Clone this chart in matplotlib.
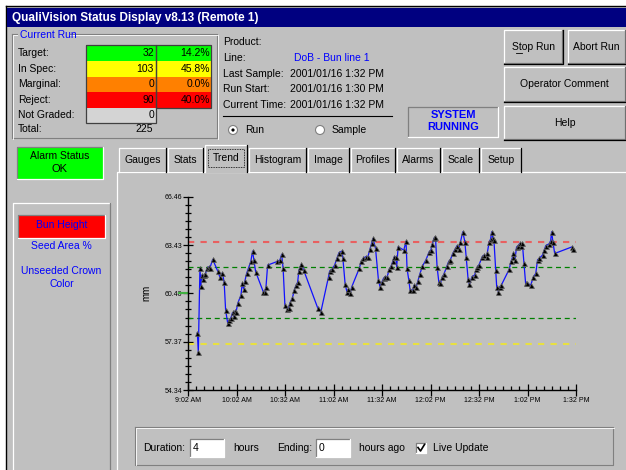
import matplotlib
matplotlib.use("Agg")
import matplotlib.pyplot as plt
from matplotlib.patches import Rectangle, Circle
from matplotlib.ticker import FixedLocator, MultipleLocator

plt.rcParams['font.family'] = ['Liberation Sans', 'DejaVu Sans']

# trend samples: minutes after the first axis tick, bun height in mm
trend_min = [5.6, 6.2, 7.2, 7.8, 8.3, 8.9, 9.8, 10.5, 11.7, 12.8, 13.4, 15.1, 18.2, 19.6,
             21.1, 22.2, 23.1, 24.4, 25.1, 26.4, 27.4, 28.0, 28.9, 29.5, 30.7, 32.6, 33.4,
             34.2, 35.1, 36.1, 37.3, 38.7, 39.8, 40.6, 41.7, 46.4, 47.3, 48.1, 49.1, 55.1,
             56.7, 57.8, 58.7, 59.8,
             60.9, 62.1, 62.9, 64.4, 65.6, 66.7, 67.7, 68.4, 69.3, 69.9, 71.4, 80.2, 82.0,
             86.8, 87.5, 88.9, 90.6, 92.0, 93.3, 95.1, 95.7, 97.1, 98.2, 99.1, 100.2, 101.2,
             105.8, 107.1, 108.4, 109.8, 111.1, 112.4, 113.5, 114.3, 115.9, 117.7, 118.7,
             119.8, 120.9, 121.8, 123.1, 124.4, 125.5, 126.6, 127.5, 128.4, 129.0, 129.9,
             133.4, 134.8, 135.4, 136.5, 137.3, 139.1, 139.7, 141.1, 142.2, 143.3, 144.9,
             147.1, 149.1, 150.1, 151.1, 152.1, 153.0, 154.0, 155.1, 156.1, 157.1, 158.2,
             160.1, 161.2, 162.2, 163.7, 165.3, 166.4, 167.3, 168.5, 169.9, 171.2, 172.0,
             173.2, 174.0, 175.6, 177.3, 178.2,
             179.0, 180.0, 182.0, 183.1, 184.7, 185.1, 186.2, 187.1, 187.8, 188.5, 189.2,
             190.3, 190.9, 192.0, 192.8, 193.7, 198.6, 199.8, 200.8, 201.2, 202.2, 203.2,
             204.2, 205.2, 206.2, 206.8, 207.8, 208.8, 209.9, 212.0, 213.5, 215.1, 216.2,
             217.3, 219.3, 220.3, 221.3, 223.3, 224.3, 224.9, 225.7, 226.8, 237.7, 237.9]
trend_mm = [57.93, 56.71, 61.96, 60.86, 61.55, 61.30, 61.55, 61.60, 61.96, 62.07, 62.00,
            62.53, 61.80, 61.40, 61.69, 61.09, 59.35, 58.52, 58.70, 58.87, 59.20, 58.95,
            59.30, 59.20, 59.80, 60.29, 61.03, 60.70, 61.20, 61.65, 62.00, 62.40, 63.05,
            62.48, 61.75, 60.50, 60.50, 60.81, 62.17, 62.40, 62.48, 62.85, 61.96, 59.67,
            59.45, 59.46, 59.80, 60.10, 60.60, 60.90, 61.10, 61.80, 62.07, 62.22, 61.86,
            59.46, 59.21, 61.44, 61.80, 61.90, 62.17, 62.60, 62.95, 63.05, 62.59, 60.96,
            60.50, 60.65, 60.40, 60.81, 61.96, 62.40, 62.60, 62.70, 62.67, 63.15, 63.53,
            63.84, 63.22, 61.23, 60.81,
            61.10, 61.35, 61.44, 61.44, 61.90, 62.10, 62.40, 62.69, 62.69, 62.07, 63.32,
            63.11, 63.67, 61.96, 61.23, 60.60, 60.61, 60.90, 60.80, 61.20, 61.60, 62.10,
            62.50, 63.00, 63.10, 63.50, 63.85, 63.94, 62.07, 61.10, 61.03, 61.40, 61.60,
            62.10, 62.40, 62.50, 62.90, 63.20, 63.40, 63.15, 63.63, 64.26, 63.63, 62.69,
            61.30, 60.96, 61.44, 61.55, 61.90,
            62.07, 62.20, 62.70, 62.80, 62.70, 62.95, 63.60, 63.80, 64.26, 63.85, 63.73,
            61.86, 60.82, 60.50, 60.82, 60.90, 61.90, 62.40, 62.70, 62.90, 62.50, 63.30,
            63.40, 63.53, 63.40, 63.53, 62.28, 61.03, 61.03, 60.92, 61.40, 61.65, 62.50,
            62.60, 62.80, 63.10, 63.40, 63.50, 63.70, 64.26, 63.63, 62.90, 63.32, 63.15]

time_ticks = [0, 30, 60, 90, 120, 150, 180, 210, 240]
time_labels = ["9:02 AM", "10:02 AM", "10:32 AM", "11:02 AM", "11:32 AM",
               "12:02 PM", "12:32 PM", "1:02 PM", "1:32 PM"]
y_ticks = [54.34, 57.37, 60.40, 63.43, 66.46]
y_labels = ["54.34", "57.37", "60.40", "63.43", "66.46"]

reject_hi = 63.6
spec_hi = 62.03
spec_lo = 58.83
reject_lo = 57.2
nominal = 60.40

grade_names = ["Target:", "In Spec:", "Marginal:", "Reject:", "Not Graded:"]
grade_counts = [32, 103, 0, 90, 0]
grade_pct = [14.2, 45.8, 0.0, 40.0]
grade_colors = ["#00ff00", "#ffff00", "#ff8000", "#ff0000", "#d4d4d4"]
total_count = 225

tab_names = ["Gauges", "Stats", "Trend", "Histogram", "Image", "Profiles", "Alarms", "Scale", "Setup"]
tab_edges = [119, 168, 205, 249, 308, 351, 397, 442, 481, 523]

GRAY = "#c0c0c0"
DARK = "#808080"
BLUE = "#0000ff"
FS = 7.5

fig = plt.figure(figsize=(6.26, 4.70), dpi=100)
fig.patch.set_facecolor("white")
ax0 = fig.add_axes([0, 0, 1, 1])
ax0.set_xlim(0, 626)
ax0.set_ylim(470, 0)
ax0.axis("off")


def box(x, y, w, h, color, edge="none", lw=0.8, z=1):
    ax0.add_patch(Rectangle((x, y), w, h, facecolor=color, edgecolor=edge, lw=lw, zorder=z))


def bevel(x, y, w, h, raised=True, face=None, outer=False):
    if face is not None:
        box(x, y, w, h, face)
    lt, rb = ("white", DARK) if raised else (DARK, "white")
    ax0.plot([x, x, x + w], [y + h, y, y], color=lt, lw=0.9, zorder=2)
    ax0.plot([x, x + w, x + w], [y + h, y + h, y], color=rb, lw=0.9, zorder=2)
    if outer:
        ax0.plot([x - 0.5, x + w + 1, x + w + 1], [y + h + 1, y + h + 1, y - 0.5], color="black", lw=0.9, zorder=2)


def txt(x, y, s, ha="left", color="black", size=FS, **kw):
    ax0.text(x, y, s, ha=ha, va="center", color=color, fontsize=size, zorder=5, **kw)


# window
box(6, 6, 620, 464, GRAY)
ax0.plot([6, 6], [470, 6], color="black", lw=1)
ax0.plot([6, 626], [6, 6], color="black", lw=1)
box(7, 8, 619, 19, "#000080", z=2)
txt(12, 17.5, "QualiVision Status Display v8.13 (Remote 1)", color="white", size=8.5, fontweight="bold")

# current run group
ax0.plot([12, 12, 217, 217, 12], [34, 138, 138, 34, 34], color=DARK, lw=0.8, zorder=2)
ax0.plot([13, 13, 218, 218], [139, 35, 35, 139], color="white", lw=0.6, zorder=2)
box(18, 29, 52, 11, GRAY, z=3)
txt(20, 35, "Current Run", color=BLUE)

row_y = [45, 61, 76.5, 92, 108, 123]
for i, name in enumerate(grade_names):
    txt(18, (row_y[i] + row_y[i + 1]) / 2, name)
    box(86, row_y[i], 70, row_y[i + 1] - row_y[i], grade_colors[i])
    txt(154, (row_y[i] + row_y[i + 1]) / 2, str(grade_counts[i]), ha="right")
for i, p in enumerate(grade_pct):
    box(156, row_y[i], 55, row_y[i + 1] - row_y[i], grade_colors[i])
    txt(210, (row_y[i] + row_y[i + 1]) / 2, "%.1f%%" % p, ha="right")
ax0.add_patch(Rectangle((86, 45), 70, 78, facecolor="none", edgecolor="#404040", lw=0.9, zorder=3))
ax0.add_patch(Rectangle((156, 45), 55, 63, facecolor="none", edgecolor="#404040", lw=0.9, zorder=3))
txt(18, 128.5, "Total:")
txt(153, 128.5, str(total_count), ha="right")

# product info
info = [("Product:", ""), ("Line:", "DoB - Bun line 1"), ("Last Sample:", "2001/01/16 1:32 PM"),
        ("Run Start:", "2001/01/16 1:30 PM"), ("Current Time:", "2001/01/16 1:32 PM")]
for i, (k, v) in enumerate(info):
    y = 42 + i * 15.8
    txt(223, y, k)
    if k == "Line:":
        txt(294, y, v, color=BLUE)
    else:
        txt(290, y, v)
ax0.plot([223, 392], [115.5, 115.5], color="black", lw=0.8)
for cx, lab in [(233, "Run"), (320, "Sample")]:
    ax0.add_patch(Circle((cx, 130), 4.5, facecolor="white", edgecolor=DARK, lw=0.8, zorder=3))
    txt(cx + 12, 130, lab)
ax0.add_patch(Circle((233, 130), 1.6, facecolor="black", zorder=4))

bevel(408, 107, 90, 30, raised=False)
txt(453, 115.5, "SYSTEM", ha="center", color=BLUE, size=8, fontweight="bold")
txt(453, 127, "RUNNING", ha="center", color=BLUE, size=8, fontweight="bold")

# buttons
for bx, by, bw, bh, lab in [(504, 30, 58, 33, "Stop Run"), (568, 30, 57, 33, "Abort Run"),
                            (504, 67, 121, 34, "Operator Comment"), (504, 106, 121, 33, "Help")]:
    bevel(bx, by, bw, bh, raised=True, outer=True)
    txt(bx + bw / 2, by + bh / 2, lab, ha="center")
ax0.plot([516, 522], [53, 53], color="black", lw=0.6, zorder=5)

# alarm status
bevel(17, 147, 86, 32, raised=False, face="#00ff00")
txt(60, 156, "Alarm Status", ha="center")
txt(60, 169, "OK", ha="center", size=8)

# left variables panel
bevel(13, 203, 97, 270, raised=True)
bevel(18, 215, 87, 23, raised=False, face="#ff0000")
txt(61.5, 225, "Bun Height", ha="center", color=BLUE)
txt(61.5, 246, "Seed Area %", ha="center", color=BLUE)
txt(61.5, 271, "Unseeded Crown", ha="center", color=BLUE)
txt(61.5, 284, "Color", ha="center", color=BLUE)

# tab panel and tabs
bevel(117, 172, 515, 300, raised=True)
for i, name in enumerate(tab_names):
    x0, x1 = tab_edges[i], tab_edges[i + 1]
    top = 145 if name == "Trend" else 148
    box(x0, top, x1 - x0 - 1, 172 - top + (1 if name == "Trend" else 0), GRAY, z=3)
    ax0.plot([x0, x0, x1 - 2], [172, top, top], color="white", lw=0.9, zorder=3)
    ax0.plot([x1 - 2, x1 - 2], [top, 172], color="black", lw=0.9, zorder=3)
    txt((x0 + x1) / 2 - 1, 160 if name != "Trend" else 158, name, ha="center")
    if name == "Trend":
        ax0.add_patch(Rectangle((x0 + 3, top + 4), x1 - x0 - 8, 18, facecolor="none",
                                edgecolor="black", lw=0.6, ls=(0, (1, 1)), zorder=4))

# bottom duration group
ax0.plot([135, 135, 613, 613, 135], [427, 465, 465, 427, 427], color=DARK, lw=0.8)
ax0.plot([136, 136, 614], [465, 428, 428], color="white", lw=0.6)
txt(143, 448, "Duration:")
bevel(190, 439, 34, 18, raised=False, face="white")
txt(193, 448, "4")
txt(233, 448, "hours")
txt(277, 448, "Ending:")
bevel(316, 439, 34, 18, raised=False, face="white")
txt(319, 448, "0")
txt(359, 448, "hours ago")
bevel(416, 443, 10, 10, raised=False, face="white")
ax0.plot([418, 420.5, 424.5], [447.5, 451, 444.5], color="black", lw=1.2, zorder=4)
txt(433, 448, "Live Update")

# trend chart
ax = fig.add_axes([188.3 / 626, (470 - 390) / 470, 387.7 / 626, 193.3 / 470])
ax.set_facecolor("none")
ax.set_xlim(0, 240)
ax.set_ylim(54.34, 66.46)
for s in ["top", "right"]:
    ax.spines[s].set_visible(False)
for s in ["left", "bottom"]:
    ax.spines[s].set_linewidth(1.0)

ax.plot([0, 240], [reject_hi, reject_hi], color="#e86060", lw=1.5, ls=(0, (3, 3)))
ax.plot([0, 240], [spec_hi, spec_hi], color="#008000", lw=0.9, ls=(0, (4, 3)))
ax.plot([0, 240], [spec_lo, spec_lo], color="#008000", lw=0.9, ls=(0, (4, 3)))
ax.plot([0, 240], [reject_lo, reject_lo], color="#e8e040", lw=1.5, ls=(0, (3, 3)))
ax.plot([-6, 0], [nominal, nominal], color="#40b040", lw=1.5, clip_on=False)

ax.plot(trend_min, trend_mm, color="#1010ff", lw=0.9, zorder=3)
ax.plot(trend_min, trend_mm, ls="none", marker="^", ms=3.6, mfc="black", mec="#606060",
        mew=0.5, zorder=4)

ax.xaxis.set_major_locator(FixedLocator(time_ticks))
ax.xaxis.set_minor_locator(FixedLocator(range(0, 241, 5)))
ax.set_xticklabels(time_labels, fontsize=5)
ax.yaxis.set_major_locator(FixedLocator(y_ticks))
ax.yaxis.set_minor_locator(FixedLocator([54.34 + 0.505 * k for k in range(25)]))
ax.set_yticklabels(y_labels, fontsize=5)
ax.tick_params(axis="y", which="major", direction="inout", length=7, width=0.9, pad=1)
ax.tick_params(axis="y", which="minor", direction="inout", length=5, width=0.9)
ax.tick_params(axis="x", which="major", direction="inout", length=8, width=0.9, pad=1)
ax.tick_params(axis="x", which="minor", direction="in", length=3, width=0.9)
ax.set_ylabel("mm", fontsize=7, labelpad=9)

fig.savefig("out.png", dpi=100)
